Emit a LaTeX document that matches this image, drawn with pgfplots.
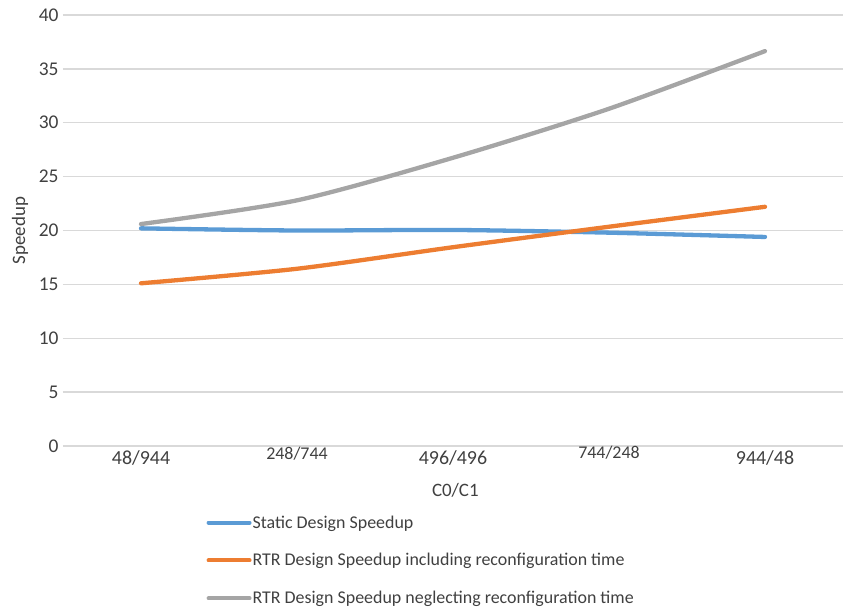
\documentclass[border=0pt]{standalone}
\usepackage{fontspec}
\setmainfont{Carlito}
\usepackage{pgfplots}
\pgfplotsset{compat=1.18}
\definecolor{sblue}{HTML}{5B9BD5}
\definecolor{sorange}{HTML}{ED7D31}
\definecolor{sgray}{HTML}{A5A5A5}
\definecolor{gridgray}{HTML}{D9D9D9}
\definecolor{textgray}{HTML}{404040}
\begin{document}
\begin{tikzpicture}
\useasboundingbox (-63bp,-167bp) rectangle (783bp,446bp);
\begin{axis}[
  at={(0,0)}, anchor=south west,
  scale only axis, width=780bp, height=431bp,
  xmin=-0.5, xmax=4.5, ymin=0, ymax=40,
  xtick={0,1,2,3,4},
  xticklabels={48/944,
    {\raisebox{3bp}[\height][\depth]{\fontsize{18}{20}\selectfont 248/744}},
    496/496,
    {\raisebox{4bp}[\height][\depth]{\fontsize{18}{20}\selectfont 744/248}},
    944/48},
  ytick={0,5,...,40},
  ymajorgrids, grid style={color=gridgray, line width=1.3bp},
  axis line style={draw=none}, major tick length=0pt,
  tick label style={color=textgray},
  /pgf/number format/assume math mode=true,
  yticklabel style={font=\fontsize{19.5}{22}\selectfont, xshift=-1bp},
  xticklabel style={font=\fontsize{20}{22}\selectfont, yshift=-1bp},
  xlabel={C0/C1}, ylabel={Speedup},
  label style={color=textgray, font=\fontsize{19}{22}\selectfont},
  xlabel style={at={(axis description cs:0.503,-0.102)}, anchor=center},
  ylabel style={at={(axis description cs:-0.055,0.5)}, anchor=center},
  legend style={at={(axis description cs:0.18,-0.154)}, anchor=north west,
    draw=none, fill=none, font=\fontsize{18}{21}\selectfont, text=textgray,
    row sep=22bp, nodes={inner sep=1bp}},
  legend cell align=left,
  legend image code/.code={\draw[#1, line width=4bp] (0bp,0bp) -- (41bp,0bp);},
  every axis plot/.append style={line width=4.3bp, line cap=round, line join=round, smooth, tension=0.45},
]
\addplot[color=sblue, mark=none] coordinates {(0,20.2) (1,20.0) (2,20.05) (3,19.8) (4,19.4)};
\addlegendentry{Static Design Speedup}
\addplot[color=sorange, mark=none] coordinates {(0,15.1) (1,16.45) (2,18.45) (3,20.35) (4,22.2)};
\addlegendentry{RTR Design Speedup including reconfiguration time}
\addplot[color=sgray, mark=none] coordinates {(0,20.6) (1,22.8) (2,26.75) (3,31.3) (4,36.65)};
\addlegendentry{RTR Design Speedup neglecting reconfiguration time}
\end{axis}
\end{tikzpicture}
\end{document}
